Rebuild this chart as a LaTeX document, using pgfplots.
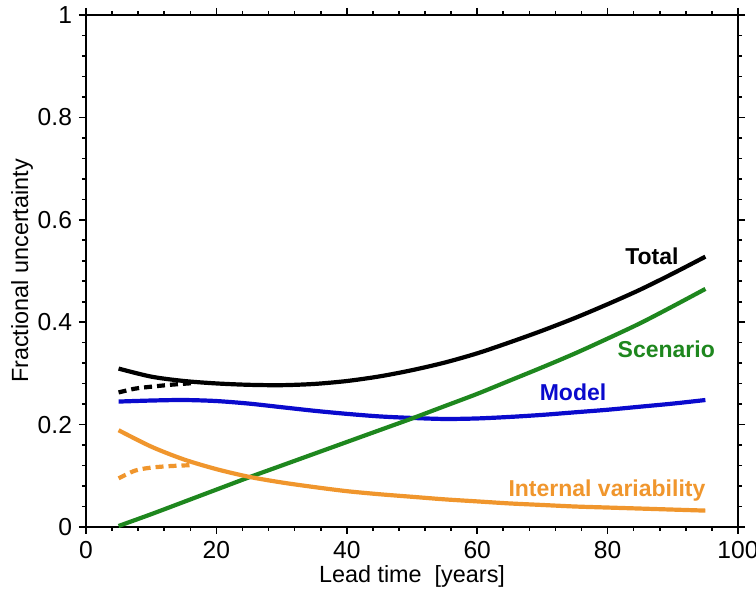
\documentclass[border=0pt]{standalone}
\usepackage{fontspec}
\setmainfont{Liberation Sans}
\usepackage{pgfplots}
\pgfplotsset{compat=1.18}
\definecolor{cgreen}{RGB}{30,135,30}
\definecolor{cblue}{RGB}{10,10,205}
\definecolor{corange}{RGB}{240,150,45}
\begin{document}
\begin{tikzpicture}
\useasboundingbox (-43pt,-31pt) rectangle (335pt,263.5pt);
\begin{axis}[
  scale only axis,
  width=326pt, height=256pt,
  xmin=0, xmax=100, ymin=0, ymax=1,
  xtick={0,20,...,100}, ytick={0,0.2,...,1},
  minor x tick num=4, minor y tick num=4,
  yticklabels={0,0.2,0.4,0.6,0.8,1},
  tick align=outside,
  major tick length=3.5pt, minor tick length=2pt,
  axis line style={line width=1pt},
  every tick/.style={line width=0.8pt, black},
  /pgf/number format/assume math mode=true,
  tick label style={font=\fontsize{12.3}{15}\selectfont},
  xlabel={Lead time \ [years]},
  ylabel={Fractional uncertainty},
  label style={font=\fontsize{11.7}{13}\selectfont},
  xlabel style={at={(axis description cs:0.5,0)}, anchor=center, yshift=-24.5pt},
  ylabel style={at={(axis description cs:0,0.5)}, anchor=center, yshift=32pt},
  clip=false,
]
% Total
\addplot[black, line width=2.1pt, smooth] coordinates {
(5,0.3094) (10,0.2937) (15,0.2852) (20,0.2804) (25,0.2777) (30,0.2770) (35,0.2794) (40,0.2851) (45,0.2941) (50,0.3063) (55,0.3211) (60,0.3392) (65,0.3607) (70,0.3836) (75,0.4083) (80,0.4351) (85,0.4636) (90,0.4950) (95,0.5280)};
\addplot[black, line width=2.1pt, dash pattern=on 4pt off 2.5pt, smooth] coordinates {
(5,0.2628) (7.5,0.2702) (10,0.2740) (13,0.2778) (16.5,0.2811)};
% Model
\addplot[cblue, line width=2.1pt, smooth] coordinates {
(5,0.245) (10,0.247) (15,0.248) (20,0.246) (25,0.241) (30,0.234) (35,0.227) (40,0.221) (45,0.216) (50,0.213) (55,0.211) (60,0.212) (65,0.215) (70,0.219) (75,0.224) (80,0.229) (85,0.235) (90,0.241) (95,0.248)};
% Scenario
\addplot[cgreen, line width=2.1pt, smooth] coordinates {
(5,0.002) (10,0.025) (15,0.049) (20,0.073) (25,0.097) (30,0.120) (35,0.143) (40,0.166) (45,0.189) (50,0.212) (55,0.236) (60,0.260) (65,0.286) (70,0.312) (75,0.339) (80,0.368) (85,0.398) (90,0.431) (95,0.465)};
% Internal variability
\addplot[corange, line width=2.1pt, smooth] coordinates {
(5,0.189) (10,0.157) (15,0.132) (20,0.113) (25,0.098) (30,0.087) (35,0.078) (40,0.070) (45,0.064) (50,0.059) (55,0.054) (60,0.050) (65,0.046) (70,0.043) (75,0.040) (80,0.038) (85,0.036) (90,0.034) (95,0.032)};
\addplot[corange, line width=2.1pt, dash pattern=on 4pt off 2.5pt, smooth] coordinates {
(5,0.095) (7.5,0.110) (10,0.116) (13,0.119) (16.5,0.121)};
% labels
\node[font=\bfseries\fontsize{11.5}{13}\selectfont, black] at (axis cs:86.8,0.529) {Total};
\node[font=\bfseries\fontsize{11.5}{13}\selectfont, cgreen] at (axis cs:89,0.348) {Scenario};
\node[font=\bfseries\fontsize{11.5}{13}\selectfont, cblue] at (axis cs:74.7,0.264) {Model};
\node[font=\bfseries\fontsize{11.5}{13}\selectfont, corange] at (axis cs:79.9,0.071) {Internal variability};
\end{axis}
\end{tikzpicture}
\end{document}
